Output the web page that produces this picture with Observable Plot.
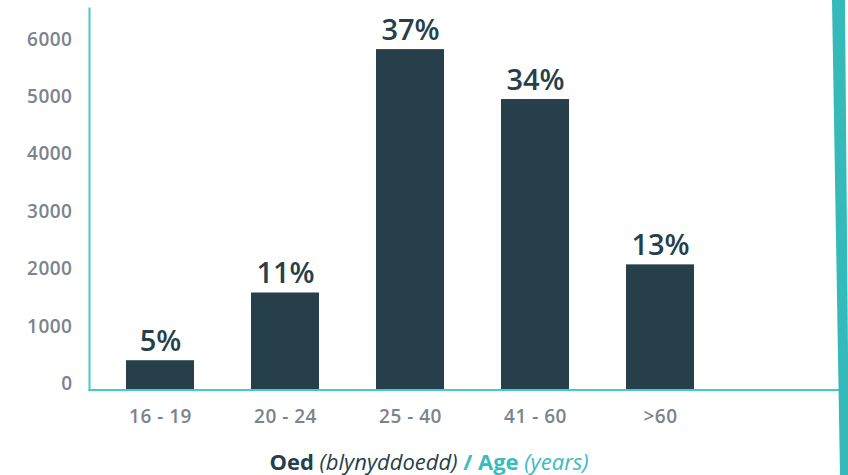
<!DOCTYPE html>
<html>
<head>
<meta charset="utf-8">
<script src="https://cdn.jsdelivr.net/npm/d3@7"></script>
<script src="https://cdn.jsdelivr.net/npm/@observablehq/plot@0.6"></script>
<style>
  html, body { margin: 0; padding: 0; background: #fff; }
  #wrap { position: relative; width: 848px; height: 475px; overflow: hidden; font-family: "Open Sans", sans-serif; }
  #stripe { position: absolute; left: 0; top: 0; width: 848px; height: 475px; background: #35b9b9;
    clip-path: polygon(832px 0, 845px 0, 849px 475px, 840px 475px); }
  #title { position: absolute; left: 0; width: 858px; top: 446px; text-align: center; font-size: 22px; line-height: 30px; color: #263f4b; }
  #title .b { font-weight: 700; }
  #title .i { font-style: italic; }
  #title .t { color: #38bdbd; }
  #chart svg g[aria-label="y-axis tick label"] text,
  #chart svg g[aria-label="x-axis tick label"] text { letter-spacing: 0.5px; }
</style>
</head>
<body>
<div id="wrap">
  <div id="chart"></div>
  <div id="title"><span class="b">Oed</span> <span class="i">(blynyddoedd)</span> <span class="b t">/ Age</span> <span class="i t">(years)</span></div>
  <div id="stripe"></div>
</div>
<script>
const ageGroups = ["16 - 19", "20 - 24", "25 - 40", "41 - 60", ">60"];
const counts = [510, 1690, 5930, 5060, 2180];
const shares = ["5%", "11%", "37%", "34%", "13%"];
const yTicks = [0, 1000, 2000, 3000, 4000, 5000, 6000];

const data = ageGroups.map((g, i) => ({group: g, count: counts[i], share: shares[i]}));

const barColor = "#263f4b";
const teal = "#45caca";
const gray = "#7b838c";

const chart = Plot.plot({
  width: 848,
  height: 440,
  marginLeft: 89,
  marginRight: 9,
  marginTop: 8,
  marginBottom: 50.5,
  style: {fontFamily: "'Open Sans', sans-serif", background: "transparent"},
  x: {domain: ageGroups, range: [97.5, 722.5], paddingInner: 0.456, paddingOuter: 0.228, label: null},
  y: {domain: [0, 6646], label: null},
  marks: [
    Plot.barY(data, {x: "group", y: "count", fill: barColor}),
    Plot.text(data, {x: "group", y: "count", text: "share", lineAnchor: "bottom", dy: -10,
      fontSize: 29, fontWeight: 600, fill: barColor}),
    Plot.axisY({ticks: yTicks, tickSize: 0, tickPadding: 17, dy: -6, fontSize: 19, fontWeight: 600,
      fill: gray, tickFormat: d => String(d), label: null}),
    Plot.axisX({tickSize: 0, tickPadding: 19.5, fontSize: 19, fontWeight: 600, fill: gray, label: null}),
    Plot.frame({anchor: "left", stroke: teal, strokeWidth: 2}),
    Plot.frame({anchor: "bottom", stroke: teal, strokeWidth: 2})
  ]
});
document.getElementById("chart").appendChild(chart);
</script>
</body>
</html>
